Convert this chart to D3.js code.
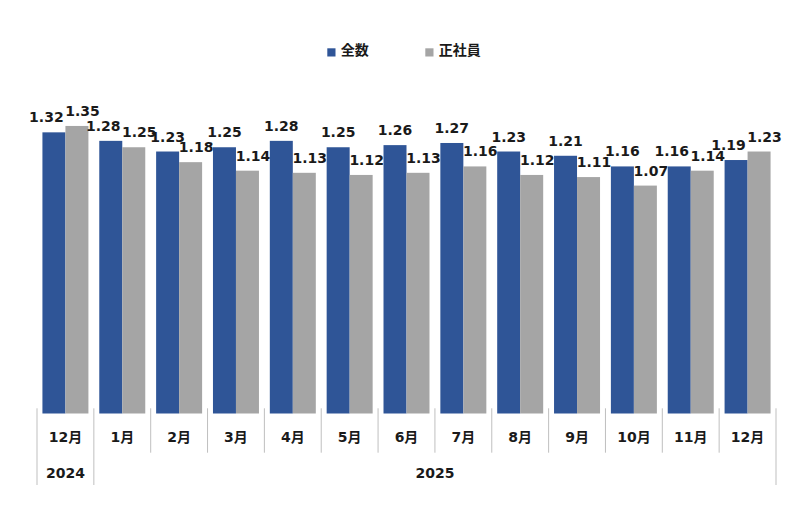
<!DOCTYPE html>
<html>
<head>
<meta charset="utf-8">
<script src="https://cdn.jsdelivr.net/npm/d3@7"></script>
<style>
  html, body { margin: 0; padding: 0; background: #fff; }
  svg { display: block; }
  text { font-family: "DejaVu Sans", "Noto Sans CJK JP", sans-serif; font-weight: bold; fill: #1a1a1a; }
</style>
</head>
<body>
<svg id="chart" width="800" height="526"></svg>
<script>
const months = ["12月","1月","2月","3月","4月","5月","6月","7月","8月","9月","10月","11月","12月"];
const years = ["2024","2025"];
const yearStart = [0, 1];
const yearEnd = [1, 13];
const seriesNames = ["全数","正社員"];
const seriesColors = ["#2F5597","#A5A5A5"];
const total = [1.32,1.28,1.23,1.25,1.28,1.25,1.26,1.27,1.23,1.21,1.16,1.16,1.19];
const regular = [1.35,1.25,1.18,1.14,1.13,1.12,1.13,1.16,1.12,1.11,1.07,1.14,1.23];

const svg = d3.select("#chart");
const idx = months.map((m, i) => i);

const x0 = d3.scaleBand().domain(idx).range([37, 776]).padding(0);
const x1 = d3.scaleBand().domain([0, 1]).range([0, x0.bandwidth()]).paddingInner(0).paddingOuter(0.236);
const y = d3.scaleLinear().domain([0, 1.6]).range([413.5, 72.7]);

const values = [total, regular];

// bars
const groups = svg.append("g").selectAll("g").data(idx).join("g")
  .attr("transform", i => `translate(${x0(i)},0)`);
groups.selectAll("rect").data(i => [0, 1].map(s => ({s, v: values[s][i]})))
  .join("rect")
  .attr("x", d => x1(d.s))
  .attr("width", x1.bandwidth())
  .attr("y", d => y(d.v))
  .attr("height", d => y(0) - y(d.v))
  .attr("fill", d => seriesColors[d.s]);

// labels
const labelG = svg.append("g").attr("font-size", "14px");
idx.forEach(i => {
  const cb = x0(i) + x1(0) + x1.bandwidth() / 2;
  const cg = x0(i) + x1(1) + x1.bandwidth() / 2 + 5.5;
  const yb = y(total[i]) - 10;
  const yg = y(regular[i]) - 10;
  const tg = labelG.append("text").attr("x", cg).attr("y", yg).attr("text-anchor", "middle").text(regular[i].toFixed(2));
  const tb = labelG.append("text").attr("x", cb).attr("y", yb).attr("text-anchor", "middle").text(total[i].toFixed(2));
  const wg = tg.node().getComputedTextLength();
  const wb = tb.node().getComputedTextLength();
  const gLeft = cg - wg / 2;
  if (Math.abs(yb - yg) < 10.5 && cb + wb / 2 > gLeft - 1) {
    tb.attr("x", gLeft - 1.5 - wb / 2);
  }
});

// category axis (month labels)
const axis = d3.axisBottom(x0).tickSize(0).tickPadding(0).tickFormat(i => months[i]);
const ax = svg.append("g").attr("transform", "translate(0,437)").call(axis);
ax.select(".domain").remove();
ax.selectAll("text").attr("dy", "0.35em").attr("font-size", "14px")
  .style("font-family", "'DejaVu Sans','Noto Sans CJK JP',sans-serif").style("font-weight", "bold").attr("fill", "#1a1a1a");

// tick divider lines
const step = x0.step();
const bounds = d3.range(0, months.length + 1);
const yearBounds = new Set([...yearStart, ...yearEnd]);
svg.append("g").selectAll("line").data(bounds).join("line")
  .attr("x1", b => 37 + b * step).attr("x2", b => 37 + b * step)
  .attr("y1", 408.3)
  .attr("y2", b => yearBounds.has(b) ? 485 : 452.7)
  .attr("stroke", "#BFBFBF").attr("stroke-width", 1);

// year labels
svg.append("g").selectAll("text").data(years).join("text")
  .attr("x", (d, k) => 37 + (yearStart[k] + yearEnd[k]) / 2 * step)
  .attr("y", 473.5).attr("dy", "0.35em").attr("text-anchor", "middle")
  .attr("font-size", "14px").text(d => d);

// legend
const legendX = [327.3, 425.3];
const leg = svg.append("g").selectAll("g").data(seriesNames).join("g")
  .attr("transform", (d, k) => `translate(${legendX[k]},0)`);
leg.append("rect").attr("x", 0).attr("y", 48.3).attr("width", 8.2).attr("height", 8.2)
  .attr("fill", (d, k) => seriesColors[k]);
leg.append("text").attr("x", 13.5).attr("y", 50).attr("dy", "0.35em")
  .attr("font-size", "14px").style("font-family", "'Noto Sans CJK JP',sans-serif").text(d => d);
</script>
</body>
</html>
